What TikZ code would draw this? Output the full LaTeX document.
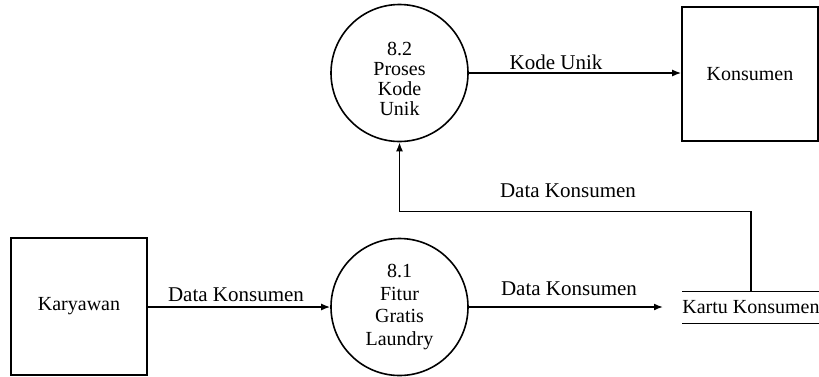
\documentclass[tikz,border=0pt]{standalone}
\usepackage{fontspec}
\setmainfont{Liberation Serif}
\usetikzlibrary{arrows.meta}

\tikzset{
  flow/.style={line width=0.8pt, -{Latex[length=4.5pt,width=3.5pt]}},
  plainline/.style={line width=0.8pt},
  process/.style={circle, draw, line width=0.8pt, minimum size=68.5pt, inner sep=0pt,
    align=center},
  entity/.style={rectangle, draw, line width=0.8pt, inner sep=0pt,
    font=\fontsize{10}{12}\selectfont},
  datastore/.style={rectangle, minimum width=68pt, minimum height=15.5pt, inner sep=0pt,
    font=\fontsize{10}{12}\selectfont},
  flowlabel/.style={inner sep=0pt, font=\fontsize{10.5}{12}\selectfont},
}

\begin{document}
\begin{tikzpicture}[x=0.5pt, y=-0.5pt]
  \useasboundingbox (0,0) rectangle (819,376);

  % processes (the text of 8.2 sits a little below the circle's centre)
  \node[process, font=\fontsize{10}{9.9}\selectfont] (p82) at (399.5,73)
    {\raisebox{-6.75pt}[0pt][0pt]{\begin{tabular}{@{}c@{}}8.2\\Proses\\Kode\\Unik\end{tabular}}};
  \node[process, font=\fontsize{10}{11.3}\selectfont] (p81) at (399.5,307)
    {8.1\\Fitur\\Gratis\\Laundry};

  % external entities
  \node[entity, minimum width=68pt, minimum height=67pt] (kons) at (750,74) {Konsumen};
  \node[entity, minimum width=68pt, minimum height=68.5pt] (kar) at (79,306.5) {Karyawan};

  % data store
  \node[datastore] (kk) at (751,307.5) {Kartu Konsumen};
  \draw[plainline] (kk.north west) -- (kk.north east);
  \draw[plainline] (kk.south west) -- (kk.south east);

  % data flows
  \draw[flow] (kar.east |- p81.center) -- (p81.west);
  \coordinate (kkin) at (663,307);
  \draw[flow] (p81.east) -- (kkin);
  \draw[flow] (p82.east) -- (p82.east -| kons.west);
  \draw[flow] (kk.north) -- ++(0,-80) -| (p82.south);

  % flow labels
  \node[flowlabel] (l1) at (236,295) {Data Konsumen};
  \node[flowlabel] (l2) at (569,289) {Data Konsumen};
  \node[flowlabel] (l3) at (568,191) {Data Konsumen};
  \node[flowlabel] (l4) at (556,62) {Kode Unik};
\end{tikzpicture}
\end{document}
